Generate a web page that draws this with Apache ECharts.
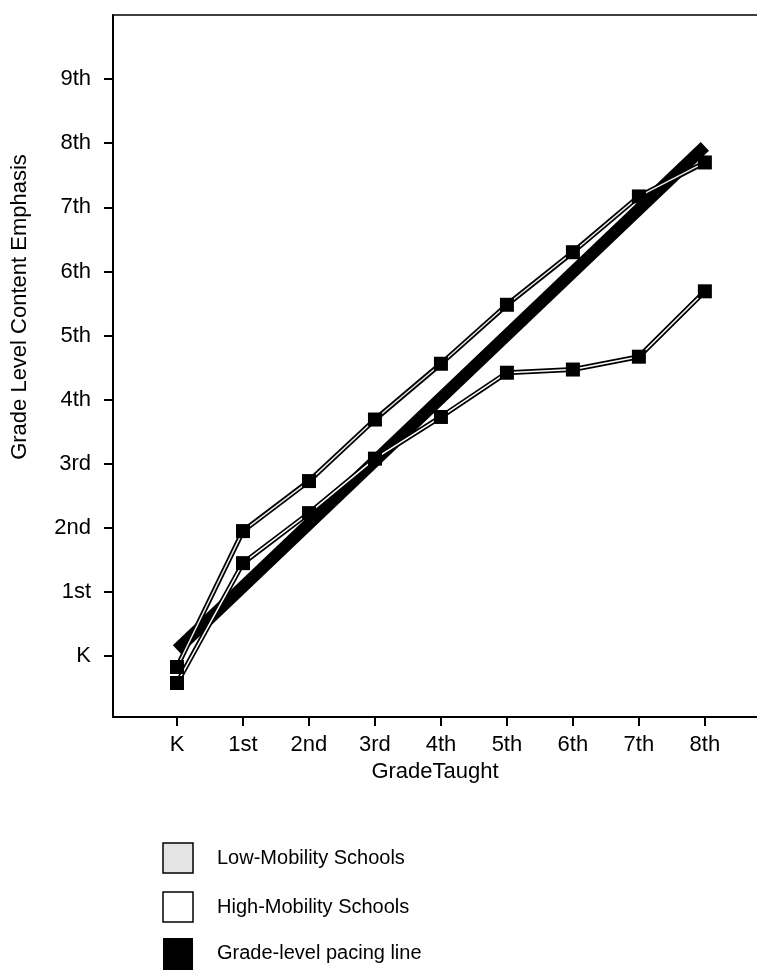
<!DOCTYPE html>
<html>
<head>
<meta charset="utf-8">
<script src="https://cdn.jsdelivr.net/npm/echarts@6/dist/echarts.min.js"></script>
<style>
  html, body { margin: 0; padding: 0; background: #fff; }
  #chart { width: 757px; height: 973px; }
</style>
</head>
<body>
<div id="chart"></div>
<script>
// grade labels, x = grade taught, y = grade level content emphasis
var xLabels = ["K", "1st", "2nd", "3rd", "4th", "5th", "6th", "7th", "8th"];
var yLabels = ["K", "1st", "2nd", "3rd", "4th", "5th", "6th", "7th", "8th", "9th"];
var gradeTaught = [0, 1, 2, 3, 4, 5, 6, 7, 8];
var gradeTicks = [0, 1, 2, 3, 4, 5, 6, 7, 8, 9];

var lowMobility = [-0.17, 1.95, 2.73, 3.69, 4.56, 5.48, 6.30, 7.17, 7.70];
var highMobility = [-0.42, 1.45, 2.23, 3.08, 3.73, 4.42, 4.47, 4.67, 5.69];
// pacing line only has two ends
var pacingX = [0, 8];
var pacingY = [0.1, 7.95];

var legendNames = ["Low-Mobility Schools", "High-Mobility Schools", "Grade-level pacing line"];

var FONT = "'Liberation Sans', Arial, Helvetica, sans-serif";
var X_MIN = -0.97, X_MAX = 8.79;

function pairs(xs, ys) {
  return xs.map(function (x, i) { return [x, ys[i]]; });
}

var mychart = echarts.init(document.getElementById("chart"));

var option = {
  animation: false,
  grid: {
    left: 113,
    top: 15,
    right: 0,
    bottom: 256
  },
  xAxis: [
    {
      type: "value",
      min: X_MIN,
      max: X_MAX,
      name: "GradeTaught",
      nameLocation: "middle",
      nameGap: 40,
      nameTextStyle: { color: "#000", fontSize: 22, fontFamily: FONT },
      splitLine: { show: false },
      axisLine: { onZero: false, lineStyle: { color: "#000", width: 2 } },
      axisTick: { customValues: gradeTaught, length: 9, lineStyle: { color: "#000", width: 2 } },
      axisLabel: {
        customValues: gradeTaught,
        margin: 17,
        color: "#000",
        fontSize: 22,
        fontFamily: FONT,
        formatter: function (v) { return xLabels[Math.round(v)]; }
      }
    },
    {
      // only the top frame line
      type: "value",
      position: "top",
      min: X_MIN,
      max: X_MAX,
      splitLine: { show: false },
      axisLine: { onZero: false, lineStyle: { color: "#000", width: 1.5 } },
      axisTick: { show: false },
      axisLabel: { show: false }
    }
  ],
  yAxis: {
    type: "value",
    min: -0.95,
    max: 10.0,
    splitLine: { show: false },
    axisLine: { onZero: false, lineStyle: { color: "#000", width: 2 } },
    axisTick: { customValues: gradeTicks, length: 9, lineStyle: { color: "#000", width: 2 } },
    axisLabel: {
      customValues: gradeTicks,
      margin: 22,
      color: "#000",
      fontSize: 22,
      fontFamily: FONT,
      formatter: function (v) { return yLabels[Math.round(v)]; }
    }
  },
  series: [
    {
      name: legendNames[2],
      type: "line",
      data: pairs(pacingX, pacingY),
      symbol: "none",
      lineStyle: { color: "#000", width: 12, cap: "butt" }
    },
    // double lines: wide black stroke, thin light stroke on top
    {
      type: "line",
      data: pairs(gradeTaught, lowMobility),
      symbol: "none",
      lineStyle: { color: "#000", width: 5 }
    },
    {
      name: legendNames[0],
      type: "line",
      data: pairs(gradeTaught, lowMobility),
      symbol: "rect",
      symbolSize: 14,
      itemStyle: { color: "#000" },
      lineStyle: { color: "#e6e6e6", width: 1.5 }
    },
    {
      type: "line",
      data: pairs(gradeTaught, highMobility),
      symbol: "none",
      lineStyle: { color: "#000", width: 5 }
    },
    {
      name: legendNames[1],
      type: "line",
      data: pairs(gradeTaught, highMobility),
      symbol: "rect",
      symbolSize: 14,
      itemStyle: { color: "#000" },
      lineStyle: { color: "#fff", width: 1.5 }
    }
  ],
  graphic: [
    {
      type: "text",
      x: 20,
      y: 307,
      rotation: Math.PI / 2,
      style: {
        text: "Grade Level Content Emphasis",
        fill: "#000",
        font: "22px " + FONT,
        align: "center",
        verticalAlign: "middle"
      }
    },
    // legend boxes
    { type: "rect", shape: { x: 163, y: 843, width: 30, height: 30 }, style: { fill: "#e4e4e4", stroke: "#000", lineWidth: 1.5 } },
    { type: "rect", shape: { x: 163, y: 892, width: 30, height: 30 }, style: { fill: "#fff", stroke: "#000", lineWidth: 1.5 } },
    { type: "rect", shape: { x: 163, y: 938, width: 30, height: 32 }, style: { fill: "#000" } },
    { type: "text", x: 217, y: 858, style: { text: legendNames[0], fill: "#000", font: "20px " + FONT, verticalAlign: "middle" } },
    { type: "text", x: 217, y: 907, style: { text: legendNames[1], fill: "#000", font: "20px " + FONT, verticalAlign: "middle" } },
    { type: "text", x: 217, y: 953, style: { text: legendNames[2], fill: "#000", font: "20px " + FONT, verticalAlign: "middle" } }
  ]
};

mychart.setOption(option);
</script>
</body>
</html>
